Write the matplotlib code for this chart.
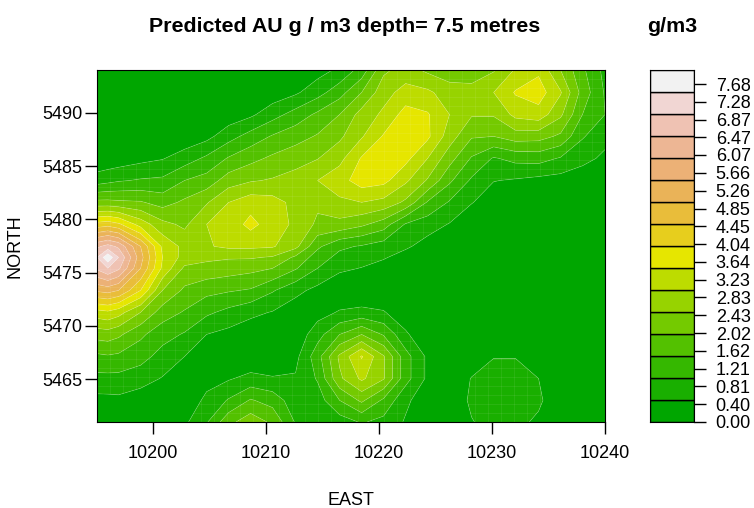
#!/usr/bin/env python3
"""Predicted gold grade map at 7.5 m depth, levelplot style."""

import colorsys

import matplotlib
matplotlib.use('Agg')
import matplotlib.pyplot as plt
import numpy as np

plt.rcParams['font.family'] = ['Liberation Sans', 'DejaVu Sans']

# grid node positions
east = [10195.04, 10196.0, 10196.96, 10198.9, 10200.84, 10202.79, 10204.74, 10206.69,
        10208.63, 10210.58, 10212.61, 10214.56, 10216.51, 10218.46, 10220.4, 10222.35,
        10224.3, 10226.24, 10228.19, 10230.14, 10232.08, 10234.12, 10236.07, 10238.01, 10240.0]
north = [5494.04, 5491.93, 5489.86, 5487.8, 5485.73, 5483.66, 5481.6, 5479.53, 5477.46,
         5476.43, 5475.4, 5473.33, 5471.26, 5469.19, 5467.12, 5465.05, 5462.99, 5460.96]

# g/m3 at each node, top row first
gold = [
    [0, 0, 0, 0, 0, 0, 0, 0, 0, .05, .15, .3, .6, 1.2, 2.4, 2.7, 2.4, 2.2, 2.2, 2.45, 3.05, 3.4, 2.5, 1.6, .85],
    [0, 0, 0, 0, 0, 0, 0, 0, .1, .2, .42, .8, 1.3, 2.0, 2.8, 3.2, 3.1, 2.75, 2.7, 3.0, 3.55, 3.75, 3.05, 1.8, .95],
    [0, 0, 0, 0, 0, 0, .05, .2, .4, .8, 1.2, 1.6, 2.0, 2.7, 3.1, 3.7, 3.55, 3.0, 2.55, 2.55, 3.15, 3.3, 2.6, 1.5, 1.0],
    [0, 0, 0, 0, .05, .15, .35, .8, 1.2, 1.55, 1.8, 2.05, 2.4, 2.95, 3.55, 3.75, 3.6, 2.75, 2.05, 2.0, 2.25, 2.2, 1.9, 1.05, .65],
    [.1, .15, .2, .35, .47, .75, 1.1, 1.55, 1.85, 2.1, 2.3, 2.48, 2.85, 3.55, 3.75, 3.65, 3.0, 2.2, 1.45, .95, 1.15, 1.2, .95, .65, .4],
    [.75, .85, .95, 1.05, 1.1, 1.5, 1.7, 2.25, 2.45, 2.55, 2.7, 3.0, 3.3, 3.75, 3.65, 3.1, 2.45, 1.6, .92, .52, .45, .35, .3, .2, .05],
    [2.15, 2.15, 2.1, 2.05, 1.8, 2.1, 2.45, 3.0, 3.3, 3.2, 2.85, 2.6, 2.9, 3.0, 2.85, 2.4, 1.45, .95, .53, .2, .1, 0, 0, 0, 0],
    [4.2, 4.3, 4.1, 3.3, 2.65, 2.4, 3.0, 3.2, 3.65, 3.25, 2.9, 2.4, 2.35, 2.1, 1.75, .95, .72, .47, .1, 0, 0, 0, 0, 0, 0],
    [6.4, 6.7, 6.4, 5.0, 3.4, 2.85, 2.95, 3.1, 3.1, 3.05, 2.65, 1.6, 1.1, .95, .75, .58, .3, 0, 0, 0, 0, 0, 0, 0, 0],
    [7.0, 7.9, 7.0, 5.2, 3.5, 2.8, 2.6, 2.55, 2.55, 2.45, 1.9, 1.25, .85, .7, .55, .3, .1, 0, 0, 0, 0, 0, 0, 0, 0],
    [6.6, 7.0, 6.6, 5.0, 3.4, 2.4, 2.35, 2.25, 2.15, 2.0, 1.55, 1.0, .6, .48, .3, .1, 0, 0, 0, 0, 0, 0, 0, 0, 0],
    [5.1, 5.2, 5.0, 4.0, 2.5, 1.9, 1.65, 1.55, 1.45, 1.05, .65, .35, .1, .05, 0, 0, 0, 0, 0, 0, 0, 0, 0, 0, 0],
    [3.3, 3.4, 3.2, 2.5, 1.75, 1.45, 1.1, .85, .62, .47, .2, .3, .55, .65, .55, .1, 0, 0, 0, 0, 0, 0, 0, 0, 0],
    [2.2, 2.25, 2.1, 1.6, 1.2, .95, .5, .35, .2, .1, .15, .8, 1.5, 2.0, 1.45, .6, 0, 0, 0, 0, 0, 0, 0, 0, 0],
    [1.4, 1.45, 1.4, 1.2, .8, .5, .25, .15, .1, .05, .35, 1.3, 2.6, 3.55, 2.55, 1.2, .4, 0, .1, .48, .48, .15, 0, 0, 0],
    [.85, .85, .85, .7, .47, .3, .35, .45, .65, .55, .55, 1.05, 2.4, 3.1, 2.55, 1.2, .4, 0, .53, .7, .7, .5, 0, 0, 0],
    [.35, .36, .38, .25, .15, .2, .6, 1.05, 1.55, 1.3, .7, .75, 1.5, 2.1, 1.4, .6, .2, .1, .6, .8, .8, .6, .1, 0, 0],
    [.1, .1, .1, .05, 0, .4, .95, 1.85, 2.3, 1.9, .95, .6, .75, 1.05, .85, .45, 0, 0, .47, .7, .65, .4, 0, 0, 0],
]

levels = [0, .5, 1, 1.5, 2, 2.5, 3, 3.5, 4, 4.5, 5, 5.5, 6, 6.5, 7, 7.5, 8]
key_ticks = [0.00, 0.40, 0.81, 1.21, 1.62, 2.02, 2.43, 2.83, 3.23, 3.64,
             4.04, 4.45, 4.85, 5.26, 5.66, 6.07, 6.47, 6.87, 7.28, 7.68]
x_ticks = [10200, 10210, 10220, 10230, 10240]
y_ticks = [5465, 5470, 5475, 5480, 5485, 5490]

W, H = 754, 508


def terrain_colors(n):
    # same ramp as R's terrain.colors
    k = n // 2
    cols = []
    for i in range(k):
        t = i / (k - 1)
        cols.append(colorsys.hsv_to_rgb((4 - 2 * t) / 12, 1, 0.65 + 0.25 * t))
    for i in range(1, n - k + 1):
        t = i / (n - k)
        cols.append(colorsys.hsv_to_rgb((2 - 2 * t) / 12, 1 - t, 0.9 + 0.05 * t))
    return cols


def px_axes(fig, left, right, top, bottom):
    return fig.add_axes([left / W, 1 - bottom / H, (right - left) / W, (bottom - top) / H])


colors = terrain_colors(len(levels) - 1)

fig = plt.figure(figsize=(W / 100, H / 100), dpi=100)
ax = px_axes(fig, 97, 605, 70, 422)

# lowest band gets a lower bound under the data, otherwise zero nodes leave a seam
ax.contourf(east, north, gold, levels=[-1] + levels[1:], colors=colors, antialiased=True)
ax.contour(east, north, gold, levels=levels[1:], colors='white', linewidths=0.6, alpha=0.18)

# pale cell seams of the original device, only where the value is above the first level
upper = ax.contourf(east, north, gold, levels=[.5, 100], colors='none')
seams_v = ax.vlines(np.linspace(10195.04, 10240, 40), 5460.96, 5494.04, colors='white', linewidth=0.7, alpha=0.07)
seams_h = ax.hlines(np.linspace(5460.96, 5494.04, 40), 10195.04, 10240, colors='white', linewidth=0.7, alpha=0.07)
seams_v.set_clip_path(upper.get_paths()[0], ax.transData)
seams_h.set_clip_path(upper.get_paths()[0], ax.transData)

ax.set_xlim(10195.04, 10240)
ax.set_ylim(5460.96, 5494.04)
ax.set_xticks(x_ticks)
ax.set_yticks(y_ticks)
ax.tick_params(axis='x', length=8.6, width=1, labelsize=13, pad=8)
ax.tick_params(axis='y', length=8.6, width=1, labelsize=13, pad=2)
ax.set_xlabel('EAST', fontsize=13)
ax.xaxis.set_label_coords(0.5, -0.2)
ax.set_ylabel('NORTH', fontsize=13)
ax.yaxis.set_label_coords(-0.145, 0.5)

key = px_axes(fig, 650, 694, 70, 422)
key.bar(0.5, np.diff(levels), width=1, bottom=levels[:-1], color=colors, edgecolor='black', linewidth=1)
key.set_xlim(0, 1)
key.set_ylim(0, 8)
key.set_xticks([])
key.yaxis.tick_right()
key.set_yticks(key_ticks)
key.set_yticklabels([f'{v:.2f}' for v in key_ticks])
key.tick_params(axis='y', length=8.6, width=1, labelsize=13, pad=7)

fig.text(344.5 / W, 1 - 26 / H, 'Predicted AU g / m3 depth= 7.5 metres', fontsize=15.4, fontweight='bold',
         ha='center', va='center')
fig.text(672 / W, 1 - 26 / H, 'g/m3', fontsize=15.4, fontweight='bold', ha='center', va='center')

fig.savefig('out.png', dpi=100)
plt.close(fig)
